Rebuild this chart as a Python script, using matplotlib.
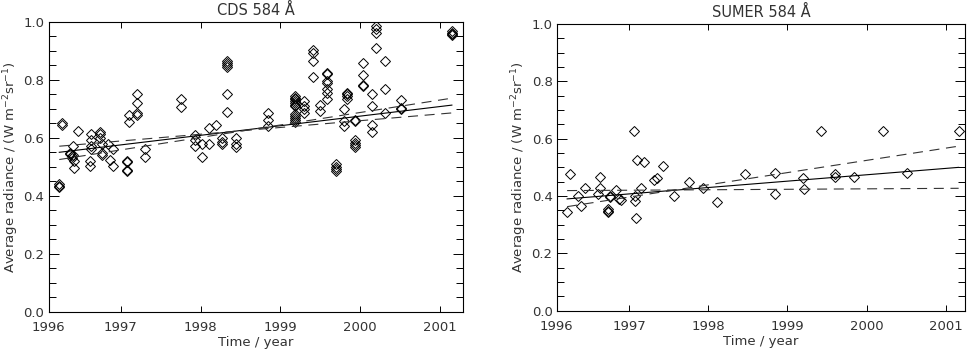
import matplotlib
matplotlib.use("Agg")
import matplotlib.pyplot as plt
from matplotlib.ticker import MultipleLocator

# CDS 584 A radiances
cds_year = [1996.23, 1996.23, 1996.23,
            1996.27, 1996.27,
            1996.40, 1996.365, 1996.365, 1996.39, 1996.39, 1996.41, 1996.41, 1996.40,
            1996.46,
            1996.63, 1996.63, 1996.63, 1996.63, 1996.62, 1996.62,
            1996.74, 1996.74, 1996.74, 1996.76, 1996.76, 1996.76,
            1996.84, 1996.87, 1996.90, 1996.90,
            1997.08, 1997.08, 1997.08, 1997.08,
            1997.11, 1997.11,
            1997.20, 1997.20, 1997.20, 1997.20,
            1997.30, 1997.30,
            1997.76, 1997.76,
            1997.93, 1997.93, 1997.93,
            1998.02, 1998.02,
            1998.11, 1998.11, 1998.20,
            1998.27, 1998.27, 1998.27,
            1998.33, 1998.33, 1998.33, 1998.33, 1998.33, 1998.33,
            1998.45, 1998.45, 1998.45,
            1998.85, 1998.85, 1998.85,
            1999.18, 1999.18, 1999.18, 1999.18, 1999.18, 1999.18,
            1999.18, 1999.19, 1999.19, 1999.19, 1999.19, 1999.19,
            1999.30, 1999.30, 1999.30, 1999.30,
            1999.41, 1999.41, 1999.41, 1999.41,
            1999.50, 1999.50,
            1999.59, 1999.59, 1999.59, 1999.59, 1999.59, 1999.59, 1999.59,
            1999.70, 1999.70, 1999.70, 1999.70,
            1999.80, 1999.80, 1999.80,
            1999.83, 1999.83, 1999.83, 1999.83,
            1999.94, 1999.94, 1999.94, 1999.94, 1999.94, 1999.94,
            2000.04, 2000.04, 2000.04, 2000.04,
            2000.15, 2000.15, 2000.15, 2000.15,
            2000.20, 2000.20, 2000.20, 2000.20,
            2000.31, 2000.31, 2000.31,
            2000.51, 2000.51, 2000.51,
            2001.15, 2001.15, 2001.15, 2001.15]
cds_rad = [0.435, 0.44, 0.43,
           0.652, 0.643,
           0.571, 0.548, 0.544, 0.536, 0.531, 0.519, 0.496, 0.54,
           0.625,
           0.614, 0.594, 0.571, 0.56, 0.519, 0.504,
           0.621, 0.614, 0.60, 0.577, 0.548, 0.542,
           0.58, 0.522, 0.504, 0.562,
           0.521, 0.515, 0.49, 0.485,
           0.68, 0.654,
           0.75, 0.719, 0.687, 0.68,
           0.56, 0.534,
           0.735, 0.706,
           0.611, 0.592, 0.571,
           0.579, 0.534,
           0.58, 0.635, 0.646,
           0.60, 0.585, 0.58,
           0.865, 0.857, 0.85, 0.845, 0.753, 0.689,
           0.60, 0.577, 0.569,
           0.686, 0.66, 0.64,
           0.744, 0.738, 0.733, 0.727, 0.721, 0.715,
           0.709, 0.681, 0.675, 0.669, 0.66, 0.654,
           0.727, 0.709, 0.698, 0.686,
           0.903, 0.894, 0.865, 0.811,
           0.713, 0.692,
           0.825, 0.82, 0.796, 0.788, 0.767, 0.756, 0.735,
           0.508, 0.50, 0.492, 0.484,
           0.698, 0.657, 0.64,
           0.756, 0.75, 0.744, 0.733,
           0.663, 0.657, 0.594, 0.583, 0.576, 0.569,
           0.857, 0.817, 0.784, 0.779,
           0.752, 0.709, 0.646, 0.619,
           0.986, 0.977, 0.963, 0.909,
           0.867, 0.77, 0.686,
           0.729, 0.704, 0.698,
           0.969, 0.963, 0.958, 0.954]

# SUMER 584 A radiances, right panel
sumer_year = [1996.22, 1996.26, 1996.36, 1996.40, 1996.44, 1996.61, 1996.64, 1996.64,
              1996.74, 1996.74, 1996.74, 1996.76, 1996.76, 1996.84, 1996.87, 1996.90,
              1997.06, 1997.08, 1997.08, 1997.09, 1997.10, 1997.15, 1997.19, 1997.31,
              1997.36, 1997.43, 1997.57, 1997.76, 1997.94, 1998.11, 1998.47, 1998.84,
              1998.84, 1999.19, 1999.21, 1999.42, 1999.60, 1999.60, 1999.84, 2000.20,
              2000.51, 2001.16]
sumer_rad = [0.344, 0.478, 0.401, 0.364, 0.428, 0.408, 0.465, 0.428,
             0.355, 0.349, 0.343, 0.399, 0.395, 0.422, 0.39, 0.385,
             0.626, 0.399, 0.384, 0.323, 0.524, 0.428, 0.517, 0.455,
             0.463, 0.506, 0.401, 0.448, 0.428, 0.378, 0.478, 0.48,
             0.408, 0.463, 0.424, 0.628, 0.478, 0.465, 0.465, 0.628,
             0.48, 0.628]

# linear fits (solid) and slope-error lines (dashed), end points
cds_fit_x = [1996.23, 2001.15]
cds_fit_y = [0.55, 0.713]
cds_lo_y = [0.571, 0.686]
cds_hi_y = [0.525, 0.737]

sumer_fit_x = [1996.22, 2001.16]
sumer_fit_y = [0.39, 0.50]
sumer_lo_y = [0.419, 0.427]
sumer_hi_y = [0.363, 0.574]

txt = "#333333"
plt.rcParams["font.family"] = ["DejaVu Sans"]
plt.rcParams["font.size"] = 9.5
plt.rcParams["text.color"] = txt
plt.rcParams["axes.labelcolor"] = txt
plt.rcParams["xtick.color"] = "black"
plt.rcParams["ytick.color"] = "black"
plt.rcParams["xtick.labelcolor"] = txt
plt.rcParams["ytick.labelcolor"] = txt

fig = plt.figure(figsize=(9.71, 3.49), dpi=100)
ax1 = fig.add_axes([0.04995, 0.1074, 0.4266, 0.8295])
ax2 = fig.add_axes([0.5733, 0.1097, 0.4205, 0.8215])

panels = [
    (ax1, cds_year, cds_rad, cds_fit_x, cds_fit_y, cds_lo_y, cds_hi_y,
     "CDS 584 Å", (1996.095, 2001.286)),
    (ax2, sumer_year, sumer_rad, sumer_fit_x, sumer_fit_y, sumer_lo_y, sumer_hi_y,
     "SUMER 584 Å", (1996.088, 2001.24)),
]

for ax, t, r, fx, fy, lo, hi, title, xl in panels:
    ax.plot(t, r, linestyle="none", marker="D", markersize=4.6,
            markerfacecolor="none", markeredgecolor="black", markeredgewidth=0.7)
    ax.plot(fx, fy, color="black", linewidth=0.8)
    ax.plot(fx, lo, color="#333333", linewidth=0.8, dashes=(9, 6))
    ax.plot(fx, hi, color="#333333", linewidth=0.8, dashes=(9, 6))

    ax.set_xlim(xl)
    ax.set_ylim(0, 1.0)
    ax.set_xticks([xl[0], 1997, 1998, 1999, 2000, 2001])
    ax.set_xticklabels(["1996", "1997", "1998", "1999", "2000", "2001"])
    ax.yaxis.set_major_locator(MultipleLocator(0.2))
    ax.yaxis.set_minor_locator(MultipleLocator(0.05))
    ax.set_yticklabels(["%.1f" % v for v in ax.get_yticks()])
    ax.tick_params(axis="both", which="both", direction="in", top=True, right=True,
                   width=0.7)
    ax.tick_params(axis="x", which="major", length=4, pad=7)
    ax.tick_params(axis="y", which="major", length=7, pad=3)
    ax.tick_params(axis="y", which="minor", length=5)
    for s in ax.spines.values():
        s.set_linewidth(0.8)

    ax.set_title(title, fontsize=10.5, pad=5)
    ax.set_xlabel("Time / year", labelpad=1)
    ax.set_ylabel("Average radiance / (W m$^{-2}$sr$^{-1}$)", labelpad=2)

fig.savefig("out.png", dpi=100)
